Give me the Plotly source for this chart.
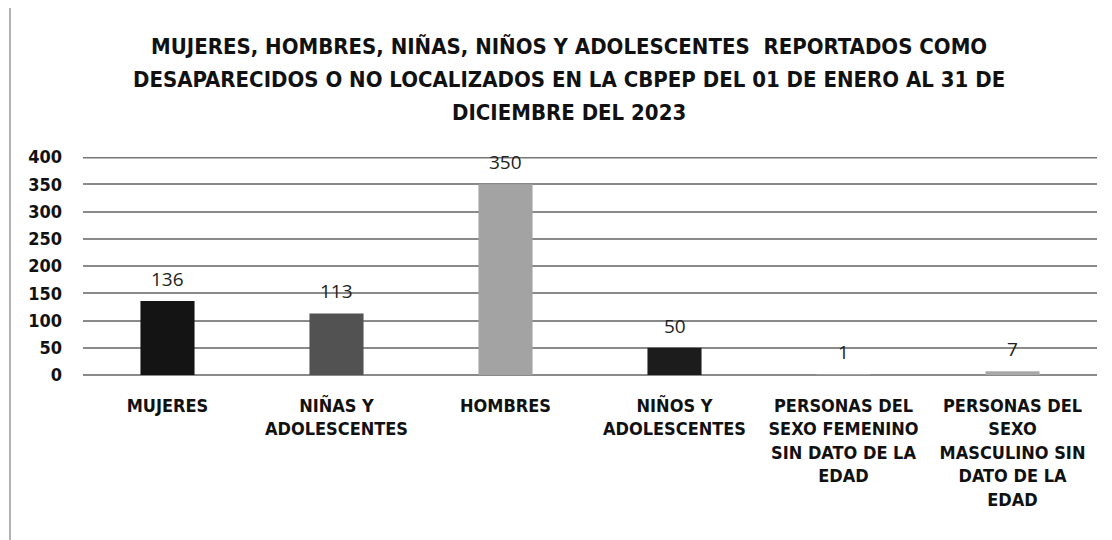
import plotly.graph_objects as go

categories = [
    "MUJERES",
    "NIÑAS Y<br>ADOLESCENTES",
    "HOMBRES",
    "NIÑOS Y<br>ADOLESCENTES",
    "PERSONAS DEL<br>SEXO FEMENINO<br>SIN DATO DE LA<br>EDAD",
    "PERSONAS DEL<br>SEXO<br>MASCULINO SIN<br>DATO DE LA<br>EDAD",
]
values = [136, 113, 350, 50, 1, 7]
bar_colors = ["#141414", "#525252", "#a3a3a3", "#1c1c1c", "#a0a0a0", "#a8a8a8"]
y_ticks = [0, 50, 100, 150, 200, 250, 300, 350, 400]
title_lines = [
    "MUJERES, HOMBRES, NIÑAS, NIÑOS Y ADOLESCENTES  REPORTADOS COMO",
    "DESAPARECIDOS O NO LOCALIZADOS EN LA CBPEP DEL 01 DE ENERO AL 31 DE",
    "DICIEMBRE DEL 2023",
]
title_line_pos = [1.505, 1.355, 1.206]

FONT = "DejaVu Sans Condensed"

fig = go.Figure()
fig.add_trace(go.Bar(
    x=categories, y=values, marker_color=bar_colors,
    marker_line_width=0, showlegend=False,
))

for c, v in zip(categories, values):
    fig.add_annotation(x=c, y=v, text=str(v), showarrow=False, yshift=22,
                       font=dict(family="Open Sans", size=19, color="#222"))

for line, yp in zip(title_lines, title_line_pos):
    fig.add_annotation(xref="paper", yref="paper", x=0.479, y=yp, text=line,
                       showarrow=False, xanchor="center", yanchor="middle",
                       font=dict(family=FONT, size=22, color="#111", weight="bold"))

fig.update_layout(
    width=1104, height=532,
    margin=dict(l=75, r=15, t=149, b=165),
    paper_bgcolor="white", plot_bgcolor="white",
    bargap=0.68,
    xaxis=dict(tickfont=dict(family=FONT, size=18, color="#111", weight="bold"),
               showgrid=False, showline=False, ticklabelstandoff=18),
    yaxis=dict(range=[0, 400], tickvals=y_ticks, showgrid=True,
               gridcolor="#8a8a8a", gridwidth=1.5, zeroline=True,
               zerolinecolor="#8a8a8a", zerolinewidth=1.5,
               tickfont=dict(family=FONT, size=18, color="#111", weight="bold"),
               ticklabelstandoff=20),
    shapes=[dict(type="line", xref="paper", yref="y", x0=0, x1=1, y0=400, y1=400,
                 line=dict(color="#777", width=3)),
            dict(type="line", xref="paper", yref="paper", x0=-0.072, x1=-0.072,
                 y0=-0.8, y1=1.7, line=dict(color="#999", width=1.5))],
)

fig.write_html("out.html")
